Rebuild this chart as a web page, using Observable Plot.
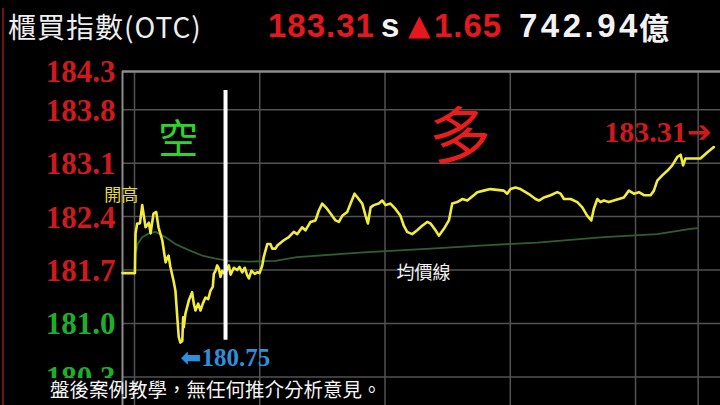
<!DOCTYPE html>
<html><head><meta charset="utf-8">
<script src="https://cdn.jsdelivr.net/npm/d3@7"></script>
<script src="https://cdn.jsdelivr.net/npm/@observablehq/plot@0.6"></script>
<style>
html,body{margin:0;padding:0;background:#000;}
#wrap{position:relative;width:720px;height:405px;overflow:hidden;background:#000;}
#hdr{position:relative;height:58px;}
.h{position:absolute;top:0;line-height:52px;white-space:nowrap;}
.num{font-family:"Liberation Sans",Arial,sans-serif;font-weight:bold;font-size:33px;letter-spacing:1px;}
#chart svg{display:block;}
#mask{position:absolute;left:6px;top:378px;width:115px;height:27px;background:#000;}
#cap{position:absolute;left:50px;top:375px;line-height:28px;font-family:"Noto Sans CJK TC",sans-serif;font-size:19.5px;color:#f4f4f4;white-space:nowrap;}
#redline{position:absolute;left:2px;top:8px;width:2px;height:400px;background:#6e1414;}
</style></head><body>
<div id="wrap">
  <div id="hdr">
    <span class="h" id="title" style="left:8px;font-family:'Noto Sans CJK TC',sans-serif;font-size:28px;letter-spacing:1px;color:#eeeeee;"></span>
    <span class="h num" id="hPrice" style="left:268px;color:#e3191f;"></span>
    <span class="h num" style="left:381px;color:#f2f2f2;">s</span>
    <span class="h" style="left:408px;top:-1px;font-family:'DejaVu Sans',sans-serif;font-size:29px;color:#e3191f;">▲</span>
    <span class="h num" id="hChg" style="left:434px;color:#e3191f;"></span>
    <span class="h num" id="hVol" style="left:519px;color:#f2f2f2;letter-spacing:3.5px;"></span>
    <span class="h" id="hUnit" style="left:639px;font-family:'Noto Sans CJK TC',sans-serif;font-weight:bold;font-size:30px;color:#f2f2f2;"></span>
  </div>
  <div id="chart"></div>
  <div id="mask"></div>
  <div id="cap"></div>
  <div id="redline"></div>
</div>
<script>
// ---- data (minutes from 09:00, index value) ----
const titleText = "櫃買指數(OTC)";
const lastPrice = 183.31;
const change = 1.65;
const volume = 742.94;
const volumeUnit = "億";
const caption = "盤後案例教學，無任何推介分析意見。";

const minutes = [-5.75,0.2,0.5,1.3,2.6,3.7,5.3,6.9,7.7,9.1,10.4,11.5,13.3,14.9,15.7,16.3,17.2,18.7,19.6,20.5,21.2,22.0,22.9,23.3,23.6,24.4,26.0,27.6,28.4,29.2,30.5,31.6,32.7,34.0,35.3,36.4,37.5,38.0,38.8,39.6,40.4,41.2,42.0,43.3,45.2,46.0,47.6,49.2,50.3,51.6,52.8,54.0,54.8,56.0,57.6,58.8,59.9,61.2,61.9,62.8,63.6,65.1,66.0,67.5,68.4,71.5,73.9,76.3,77.9,80.3,81.9,84.3,86.7,88.3,89.9,92.3,93.9,96.3,97.9,99.5,101.9,103.5,105.4,107.4,109.1,110.7,111.8,113.1,114.6,117.0,118.7,120.2,122.6,125.0,127.4,129.0,130.6,133.0,135.4,137.8,140.2,141.8,144.2,145.8,148.2,150.6,152.2,154.6,157.0,159.4,162.5,164.2,167.3,170.5,173.7,176.9,178.5,180.1,182.5,184.9,187.3,189.7,192.1,193.7,196.1,199.3,202.5,204.1,205.7,208.9,212.1,214.5,216.9,218.8,220.0,221.7,223.2,224.8,227.2,229.6,232.0,234.4,236.8,239.2,241.6,244.0,247.2,248.8,250.4,252.8,255.2,257.6,260.0,261.6,262.8,263.9,266.3,271.1,274.3,277.5];
const index = [181.66,181.66,182.18,182.31,182.31,182.55,182.26,182.32,182.18,182.44,182.46,182.26,182.09,181.80,181.86,181.89,181.74,181.56,181.43,181.08,180.82,180.75,180.77,181.08,180.95,181.13,181.30,181.41,181.26,181.17,181.26,181.17,181.26,181.34,181.32,181.43,181.48,181.65,181.69,181.76,181.72,181.61,181.69,181.65,181.76,181.64,181.73,181.70,181.74,181.67,181.73,181.63,181.59,181.69,181.65,181.67,181.66,181.76,181.87,181.96,182.04,182.04,181.98,181.98,182.02,182.09,182.13,182.20,182.17,182.26,182.22,182.33,182.35,182.48,182.57,182.50,182.44,182.35,182.33,182.41,182.46,182.57,182.70,182.63,182.57,182.41,182.31,182.52,182.55,182.57,182.61,182.55,182.57,182.50,182.41,182.28,182.20,182.17,182.22,182.28,182.33,182.31,182.22,182.15,182.24,182.35,182.57,182.59,182.63,182.61,182.68,182.72,182.74,182.76,182.75,182.74,182.70,182.76,182.78,182.76,182.72,182.68,182.63,182.61,182.65,182.68,182.72,182.70,182.63,182.63,182.59,182.52,182.41,182.35,182.50,182.63,182.59,182.61,182.59,182.61,182.63,182.65,182.74,182.70,182.72,182.68,182.68,182.74,182.87,182.94,183.00,183.07,183.18,183.21,183.07,183.16,183.16,183.16,183.24,183.31];

const avgMinutes = [0.8,1.5,3.7,6.9,10.1,14.9,19.6,26.0,32.4,38.8,45.2,54.8,67.5,77.9,109.8,141.8,165.7,192.9,224.8,250.4,266.3,269.7];
const avgIndex = [181.95,182.04,182.13,182.18,182.20,182.13,182.04,181.96,181.89,181.85,181.82,181.81,181.82,181.87,181.93,181.98,182.02,182.06,182.13,182.17,182.24,182.25];

const yTicks = [184.3,183.8,183.1,182.4,181.7,181.0,180.3];
const xTicks = [0,60,120,180,240,270];
const prevClose = 181.66;
const splitMinute = 43.6;      // white divider (空 / 多)
const splitRange = [180.78, 184.05];

// header & caption
document.getElementById("title").textContent = titleText;
document.getElementById("hPrice").textContent = lastPrice.toFixed(2);
document.getElementById("hChg").textContent = change.toFixed(2);
document.getElementById("hVol").textContent = volume.toFixed(2);
document.getElementById("hUnit").textContent = volumeUnit;
document.getElementById("cap").textContent = caption;

const series = minutes.map((m, i) => ({m, v: index[i]}));
const avg = avgMinutes.map((m, i) => ({m, v: avgIndex[i]}));
const low = series.reduce((a, b) => b.v < a.v ? b : a);
const openHigh = series.filter(d => d.m < 10).reduce((a, b) => b.v > a.v ? b : a);
const last = series[series.length - 1];

const RED = "#cc1a1f", GREEN = "#1fae2c";
const cjk = "Noto Sans CJK TC, sans-serif";

const chart = Plot.plot({
  width: 720, height: 347,
  marginLeft: 122, marginRight: 0, marginTop: 13, marginBottom: 0,
  style: {background: "transparent", overflow: "visible"},
  x: {domain: [-5.75, 280.7], axis: null},
  y: {domain: [179.926, 184.3], axis: null},
  marks: [
    Plot.ruleY(yTicks.slice(1), {stroke: "#525252", strokeWidth: 1.5}),
    Plot.ruleX(xTicks, {stroke: "#525252", strokeWidth: 1.5}),
    Plot.ruleY([yTicks[0]], {stroke: "#8c8c8c", strokeWidth: 2.5}),
    Plot.ruleX([-5.75], {stroke: "#8c8c8c", strokeWidth: 2}),
    Plot.text(yTicks, {y: d => d, frameAnchor: "left", dx: -7, dy: 1, textAnchor: "end",
      text: d => d.toFixed(1), fill: d => d >= prevClose ? RED : GREEN,
      fontSize: 31, fontWeight: "bold", fontFamily: "Liberation Serif, serif"}),
    Plot.line(avg, {x: "m", y: "v", stroke: "#2f5e34", strokeWidth: 1.8}),
    Plot.line(series, {x: "m", y: "v", stroke: "#f2ec3c", strokeWidth: 2.6, strokeLinejoin: "round"}),
    Plot.ruleX([splitMinute], {y1: splitRange[0], y2: splitRange[1], stroke: "#ffffff", strokeWidth: 4}),
    Plot.text(["空"], {x: 21, y: 183.40, fill: "#2ad62a", fontSize: 40, fontFamily: cjk}),
    Plot.text(["多"], {x: 156.2, y: 183.42, fill: "#ec1c1c", fontSize: 62, fontFamily: cjk}),
    Plot.text([openHigh], {x: "m", y: "v", text: () => "開高", textAnchor: "end", dx: -4, dy: -10,
      fill: "#e4d84a", fontSize: 17, fontFamily: cjk}),
    Plot.text(["均價線"], {x: 125.5, y: prevClose, textAnchor: "start", fill: "#f2f2f2", fontSize: 18, fontFamily: cjk}),
    Plot.text([last], {x: "m", y: "v", text: d => d.v.toFixed(2) + "➔", textAnchor: "end", dx: -2, dy: -15,
      fill: RED, fontSize: 30, fontWeight: "bold", fontFamily: "Liberation Serif, DejaVu Sans, serif"}),
    Plot.text([low], {x: "m", y: "v", text: d => "⬅" + d.v.toFixed(2), textAnchor: "start", dx: 0, dy: 15,
      fill: "#2f8fd8", fontSize: 25, fontWeight: "bold", fontFamily: "Liberation Serif, DejaVu Sans, serif"})
  ]
});
document.getElementById("chart").appendChild(chart);
</script>
</body></html>
